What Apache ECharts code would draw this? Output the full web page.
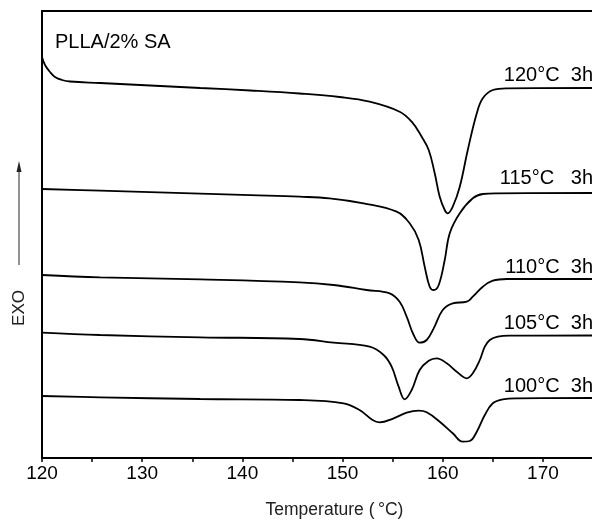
<!DOCTYPE html>
<html>
<head>
<meta charset="utf-8">
<script src="https://cdn.jsdelivr.net/npm/echarts@6/dist/echarts.min.js"></script>
<style>html,body{margin:0;padding:0;background:#fff;}#c{width:592px;height:519px;}</style>
</head>
<body>
<div id="c"></div>
<script>
// Temperature (°C) and heat-flow (arbitrary units, up = exo)
const seriesNames = ['120°C  3h', '115°C   3h', '110°C  3h', '105°C  3h', '100°C  3h'];

const t120 = [120.0,120.3,120.8,121.3,122.0,122.8,125.8,130.8,135.8,140.8,145.7,149.7,152.7,155.7,156.9,157.9,158.6,159.2,159.7,160.2,160.5,161.0,161.7,162.5,163.4,164.0,165.0,166.4,175];
const h120 = [401,393,386,381,378,376.5,375,372.5,370,367.5,364.5,361,356.3,346.3,336.3,321.3,308,284.7,261.3,248,244.7,251.3,271.3,308,344.7,359.7,368,369.7,370];

const t115 = [120.0,125.8,130.8,135.8,140.8,145.7,148.7,152.1,155.4,156.7,157.6,158.2,158.7,159.1,159.6,160.2,160.7,161.7,163.0,164.0,165.4,175];
const h115 = [269,267.3,265.8,264.3,262.8,261.3,259.7,254.7,246.3,234.7,218,191.3,171.3,168,173,198,224.7,244.7,259.7,264,264.7,265];

const t110 = [120.0,125.8,135.8,145.7,149.1,152.4,154.7,155.7,156.4,157.1,157.7,158.4,159.1,160.0,161.0,162.4,163.0,164.0,165.0,166.4,175];
const h110 = [183,180.7,178.7,175.7,173,168,164.7,156.3,141.3,123,115.3,118,129.7,148,154.7,156.3,161.3,171.3,177.3,179,179];

const t105 = [120.0,125.8,135.8,145.7,149.1,152.7,154.1,154.9,155.6,156.2,156.9,157.7,158.6,159.4,160.4,161.4,162.4,163.0,163.7,164.2,164.7,165.5,166.7,175];
const h105 = [125.3,123,120.7,119,115.3,111.3,103,91.3,71.3,58.7,68,88,97.3,99.7,94.7,86.3,79.7,84.7,98,111.3,118,121.3,122.3,122.5];

const t100 = [120.0,125.8,135.8,145.7,150.1,151.7,153.0,153.7,155.1,156.4,157.6,158.4,159.7,161.0,162.0,162.7,163.4,164.2,165.0,166.0,167.4,175];
const h100 = [62,60.7,59,58,54.7,48,38,35.7,39.7,45.3,47.3,45.7,36.3,24.7,16.3,17,26.3,43,54.7,58.7,59.7,60];

const xTicksMajor = [120, 130, 140, 150, 160, 170];
const title = 'PLLA/2% SA';
const xName = 'Temperature (\u2009°C)';
const yName = 'EXO';

const temps = [t120, t115, t110, t105, t100];
const heats = [h120, h115, h110, h105, h100];

const chart = echarts.init(document.getElementById('c'));
const FONT = '"Liberation Sans", Arial, sans-serif';

const series = seriesNames.map((n, i) => ({
  name: n,
  type: 'line',
  xAxisIndex: 0,
  data: temps[i].map((t, k) => [t, heats[i][k]]),
  smooth: 0.4,
  showSymbol: false,
  lineStyle: { color: '#000', width: 1.8 },
  silent: true
}));

const labelY = [75, 178, 267, 323, 386];

chart.setOption({
  animation: false,
  backgroundColor: '#fff',
  grid: { left: 42, right: -1, top: 11, bottom: 61, containLabel: false, outerBoundsMode: 'none' },
  xAxis: [{
    type: 'value', min: 120, max: 175, interval: 5,
    position: 'bottom',
    axisLine: { show: true, lineStyle: { color: '#000', width: 2 } },
    axisTick: { show: true, inside: false, length: 4, lineStyle: { color: '#000', width: 1.5 } },
    splitLine: { show: false },
    axisLabel: {
      color: '#000', fontSize: 19, fontFamily: FONT, margin: 6,
      formatter: v => xTicksMajor.includes(v) ? String(v) : ''
    },
    name: xName, nameLocation: 'middle', nameGap: 43,
    nameTextStyle: { color: '#222', fontSize: 17.5, fontFamily: FONT, padding: [0, 0, 0, 34] }
  }, {
    type: 'value', min: 120, max: 175, position: 'top',
    axisLine: { show: true, lineStyle: { color: '#000', width: 2 } },
    axisTick: { show: false }, axisLabel: { show: false }, splitLine: { show: false }
  }],
  yAxis: {
    type: 'value', min: 0, max: 447,
    axisLine: { show: true, lineStyle: { color: '#000', width: 2 } },
    axisTick: { show: false }, axisLabel: { show: false }, splitLine: { show: false }
  },
  series: series,
  graphic: [
    { type: 'text', left: 55, top: 32, style: { text: title, fontSize: 20, fontFamily: FONT, fill: '#000' } },
    ...seriesNames.map((n, i) => ({
      type: 'text', x: 593, y: labelY[i],
      style: { text: n, fontSize: 20, fontFamily: FONT, fill: '#000', align: 'right', verticalAlign: 'middle' }
    })),
    { type: 'text', x: 19, y: 308, rotation: Math.PI / 2,
      style: { text: yName, fontSize: 17, fontFamily: FONT, fill: '#222', align: 'center', verticalAlign: 'middle' } },
    { type: 'line', shape: { x1: 19, y1: 265, x2: 19, y2: 170 }, style: { stroke: '#777', lineWidth: 1.6 } },
    { type: 'polygon', shape: { points: [[19, 161], [16.5, 172], [21.5, 172]] }, style: { fill: '#222' } }
  ]
});
</script>
</body>
</html>
